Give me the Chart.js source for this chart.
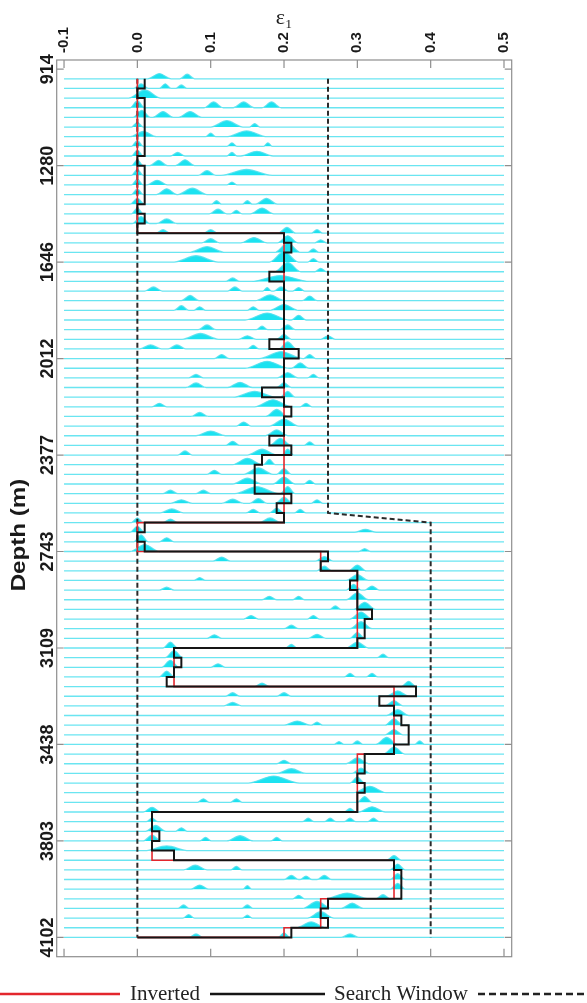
<!DOCTYPE html>
<html>
<head>
<meta charset="utf-8">
<script src="https://cdn.jsdelivr.net/npm/chart.js@4.4.1/dist/chart.umd.min.js"></script>
<style>
  html, body { margin: 0; padding: 0; background: #fff; }
</style>
</head>
<body>
<canvas id="canvas" width="587" height="1003"></canvas>
<script>
// depth axis: sample index 0..90, labelled every 10 samples
const depthTickIdx = [0, 10, 20, 30, 40, 50, 60, 70, 80, 90];
const depthLabels = ['914', '1280', '1646', '2012', '2377', '2743', '3109', '3438', '3803', '4102'];
const epsTicks = [-0.1, 0.0, 0.1, 0.2, 0.3, 0.4, 0.5];

// eps1 per layer, layers 1..89 (value holds from layer i to i+1)
const inverted = [
  0.01, 0, 0.01, 0.01, 0.01, 0.01, 0.01, 0.01, 0, 0.01,
  0.01, 0.01, 0.01, 0, 0.01, 0, 0.2, 0.21, 0.2, 0.2,
  0.18, 0.2, 0.2, 0.2, 0.2, 0.2, 0.2, 0.18, 0.22, 0.2,
  0.2, 0.2, 0.17, 0.2, 0.21, 0.2, 0.2, 0.18, 0.21, 0.17,
  0.16, 0.16, 0.16, 0.21, 0.19, 0.2, 0.01, 0, 0.01, 0.26,
  0.25, 0.3, 0.29, 0.3, 0.3, 0.32, 0.31, 0.31, 0.3, 0.05,
  0.06, 0.05, 0.04, 0.38, 0.33, 0.35, 0.36, 0.37, 0.37, 0.35,
  0.31, 0.31, 0.3, 0.31, 0.3, 0.3, 0.02, 0.02, 0.03, 0.02,
  0.05, 0.35, 0.36, 0.36, 0.36, 0.26, 0.25, 0.26, 0.21
];
const trueModel = [
  0, 0, 0, 0, 0, 0, 0, 0, 0, 0,
  0, 0, 0, 0, 0, 0, 0.2, 0.2, 0.2, 0.2,
  0.2, 0.2, 0.2, 0.2, 0.2, 0.2, 0.2, 0.2, 0.2, 0.2,
  0.2, 0.2, 0.2, 0.2, 0.2, 0.2, 0.2, 0.2, 0.2, 0.2,
  0.2, 0.2, 0.2, 0.2, 0.2, 0.2, 0, 0, 0, 0.25,
  0.25, 0.3, 0.3, 0.3, 0.3, 0.3, 0.3, 0.3, 0.3, 0.05,
  0.05, 0.05, 0.05, 0.35, 0.35, 0.35, 0.35, 0.35, 0.35, 0.35,
  0.3, 0.3, 0.3, 0.3, 0.3, 0.3, 0.02, 0.02, 0.02, 0.02,
  0.02, 0.35, 0.35, 0.35, 0.35, 0.25, 0.25, 0.25, 0.2
];
const profileEnd = { eps: 0, idx: 90 };

// search window bounds
const winLeftEps = [0, 0];
const winLeftIdx = [1, 90];
const winRightEps = [0.26, 0.26, 0.4, 0.4];
const winRightIdx = [1, 46, 47, 90];

// posterior humps on each trace 1..90: [centre eps, half width eps, height in samples]
const bumps = [
  [[0.03, 0.016, 0.45], [0.068, 0.01, 0.4]],
  [[0.005, 0.01, 0.4], [0.038, 0.008, 0.4], [0.06, 0.008, 0.3]],
  [[0.01, 0.022, 0.7]],
  [[0.0, 0.01, 0.6], [0.104, 0.013, 0.5], [0.145, 0.014, 0.5], [0.183, 0.013, 0.5]],
  [[0.006, 0.012, 0.6], [0.035, 0.014, 0.5], [0.072, 0.016, 0.5]],
  [[0.0, 0.008, 0.4], [0.122, 0.022, 0.55], [0.16, 0.007, 0.3]],
  [[0.008, 0.018, 0.45], [0.1, 0.007, 0.3], [0.149, 0.028, 0.5]],
  [[0.0, 0.008, 0.5], [0.129, 0.007, 0.3], [0.178, 0.006, 0.3]],
  [[0.0, 0.008, 0.5], [0.055, 0.01, 0.3], [0.129, 0.007, 0.3], [0.163, 0.022, 0.4]],
  [[0.0, 0.008, 0.5], [0.029, 0.012, 0.45], [0.065, 0.013, 0.5]],
  [[0.0, 0.008, 0.5], [0.095, 0.012, 0.4], [0.149, 0.035, 0.5]],
  [[0.0, 0.008, 0.5], [0.027, 0.014, 0.4], [0.129, 0.007, 0.25]],
  [[0.0, 0.008, 0.5], [0.04, 0.014, 0.5], [0.075, 0.02, 0.55]],
  [[0.0, 0.01, 0.5], [0.108, 0.007, 0.3], [0.15, 0.007, 0.3], [0.176, 0.015, 0.5]],
  [[0.0, 0.008, 0.5], [0.11, 0.012, 0.4], [0.135, 0.008, 0.3], [0.17, 0.016, 0.5]],
  [[0.005, 0.012, 0.6], [0.04, 0.014, 0.4]],
  [[0.035, 0.01, 0.3], [0.1, 0.01, 0.3], [0.204, 0.012, 0.5], [0.245, 0.008, 0.3]],
  [[0.1, 0.012, 0.35], [0.159, 0.018, 0.45], [0.205, 0.014, 0.6], [0.25, 0.008, 0.25]],
  [[0.095, 0.025, 0.5], [0.205, 0.018, 0.8], [0.24, 0.008, 0.3]],
  [[0.08, 0.03, 0.55], [0.2, 0.02, 0.9], [0.24, 0.008, 0.3]],
  [[0.205, 0.018, 0.8], [0.25, 0.008, 0.3]],
  [[0.13, 0.01, 0.3], [0.195, 0.04, 0.5]],
  [[0.022, 0.012, 0.35], [0.133, 0.01, 0.35], [0.177, 0.006, 0.3], [0.196, 0.01, 0.35], [0.22, 0.008, 0.3]],
  [[0.072, 0.012, 0.45], [0.181, 0.02, 0.5], [0.235, 0.01, 0.4]],
  [[0.06, 0.01, 0.4], [0.085, 0.008, 0.3], [0.158, 0.008, 0.3], [0.2, 0.02, 0.5]],
  [[0.177, 0.03, 0.6], [0.22, 0.01, 0.4]],
  [[0.095, 0.012, 0.4], [0.17, 0.008, 0.3], [0.205, 0.01, 0.4]],
  [[0.086, 0.025, 0.5], [0.15, 0.012, 0.3], [0.2, 0.01, 0.4], [0.26, 0.01, 0.3]],
  [[0.018, 0.015, 0.35], [0.054, 0.012, 0.35], [0.158, 0.008, 0.3], [0.205, 0.012, 0.6]],
  [[0.115, 0.01, 0.35], [0.196, 0.03, 0.6], [0.235, 0.008, 0.35]],
  [[0.177, 0.03, 0.6], [0.222, 0.012, 0.45]],
  [[0.08, 0.01, 0.3], [0.205, 0.014, 0.45], [0.24, 0.008, 0.3]],
  [[0.08, 0.014, 0.4], [0.14, 0.017, 0.45], [0.2, 0.01, 0.4]],
  [[0.16, 0.03, 0.5], [0.205, 0.01, 0.5]],
  [[0.03, 0.01, 0.3], [0.185, 0.025, 0.6], [0.23, 0.008, 0.3]],
  [[0.085, 0.012, 0.35], [0.19, 0.015, 0.6]],
  [[0.145, 0.01, 0.35], [0.2, 0.02, 0.6]],
  [[0.1, 0.02, 0.4], [0.19, 0.015, 0.5]],
  [[0.13, 0.01, 0.35], [0.195, 0.015, 0.6], [0.235, 0.008, 0.3]],
  [[0.065, 0.01, 0.35], [0.17, 0.02, 0.5], [0.205, 0.008, 0.5]],
  [[0.15, 0.02, 0.55], [0.18, 0.008, 0.45]],
  [[0.105, 0.01, 0.35], [0.165, 0.02, 0.55], [0.2, 0.01, 0.5]],
  [[0.15, 0.02, 0.5], [0.2, 0.015, 0.6], [0.235, 0.008, 0.3]],
  [[0.045, 0.01, 0.3], [0.09, 0.01, 0.3], [0.163, 0.03, 0.6], [0.205, 0.01, 0.6]],
  [[0.06, 0.015, 0.3], [0.13, 0.015, 0.35], [0.165, 0.012, 0.4], [0.2, 0.012, 0.5], [0.245, 0.008, 0.3]],
  [[0.047, 0.016, 0.35], [0.158, 0.01, 0.3], [0.19, 0.01, 0.4], [0.222, 0.008, 0.3]],
  [[0.0, 0.008, 0.4], [0.045, 0.01, 0.3], [0.181, 0.015, 0.4]],
  [[0.0, 0.01, 0.5], [0.311, 0.015, 0.25]],
  [[0.005, 0.01, 0.6], [0.04, 0.01, 0.35]],
  [[0.01, 0.02, 0.6], [0.31, 0.008, 0.25]],
  [[0.115, 0.012, 0.35], [0.255, 0.012, 0.4]],
  [[0.255, 0.01, 0.4], [0.3, 0.012, 0.5]],
  [[0.085, 0.008, 0.25], [0.3, 0.015, 0.5]],
  [[0.04, 0.01, 0.25], [0.295, 0.01, 0.5], [0.32, 0.01, 0.35]],
  [[0.18, 0.01, 0.3], [0.22, 0.008, 0.3], [0.3, 0.015, 0.6]],
  [[0.27, 0.008, 0.3], [0.31, 0.015, 0.6]],
  [[0.155, 0.01, 0.3], [0.24, 0.008, 0.3], [0.305, 0.015, 0.6]],
  [[0.21, 0.01, 0.3], [0.305, 0.015, 0.6]],
  [[0.105, 0.01, 0.3], [0.245, 0.012, 0.35], [0.3, 0.01, 0.5]],
  [[0.045, 0.01, 0.5], [0.21, 0.008, 0.3], [0.3, 0.015, 0.5]],
  [[0.05, 0.012, 0.6], [0.335, 0.008, 0.3]],
  [[0.045, 0.012, 0.6], [0.11, 0.01, 0.3]],
  [[0.04, 0.01, 0.5], [0.29, 0.008, 0.3], [0.32, 0.008, 0.3]],
  [[0.17, 0.01, 0.3], [0.37, 0.01, 0.45]],
  [[0.13, 0.01, 0.3], [0.2, 0.01, 0.3], [0.355, 0.015, 0.45]],
  [[0.13, 0.012, 0.3], [0.35, 0.012, 0.45]],
  [[0.355, 0.015, 0.5]],
  [[0.218, 0.018, 0.35], [0.245, 0.008, 0.25], [0.35, 0.012, 0.55]],
  [[0.35, 0.012, 0.45]],
  [[0.275, 0.007, 0.25], [0.3, 0.008, 0.3], [0.34, 0.015, 0.6], [0.385, 0.007, 0.3]],
  [[0.35, 0.015, 0.6]],
  [[0.2, 0.01, 0.3], [0.3, 0.015, 0.5]],
  [[0.21, 0.02, 0.4], [0.305, 0.012, 0.45]],
  [[0.186, 0.035, 0.6], [0.3, 0.01, 0.5]],
  [[0.317, 0.022, 0.55]],
  [[0.09, 0.008, 0.3], [0.135, 0.008, 0.3], [0.31, 0.01, 0.5]],
  [[0.02, 0.012, 0.4], [0.29, 0.008, 0.3], [0.32, 0.018, 0.45]],
  [[0.02, 0.008, 0.3], [0.233, 0.008, 0.3], [0.263, 0.008, 0.3], [0.29, 0.008, 0.3], [0.322, 0.008, 0.3]],
  [[0.025, 0.014, 0.5], [0.06, 0.008, 0.3]],
  [[0.02, 0.012, 0.5], [0.093, 0.008, 0.3], [0.14, 0.018, 0.45], [0.19, 0.008, 0.3]],
  [[0.04, 0.03, 0.4]],
  [[0.35, 0.01, 0.4]],
  [[0.079, 0.016, 0.4], [0.135, 0.008, 0.3], [0.355, 0.01, 0.5]],
  [[0.21, 0.01, 0.35], [0.23, 0.008, 0.3], [0.255, 0.01, 0.35], [0.355, 0.01, 0.5]],
  [[0.085, 0.012, 0.35], [0.15, 0.006, 0.3], [0.355, 0.01, 0.5]],
  [[0.22, 0.008, 0.3], [0.286, 0.03, 0.5], [0.335, 0.01, 0.35]],
  [[0.063, 0.008, 0.3], [0.15, 0.008, 0.3], [0.245, 0.02, 0.6], [0.293, 0.015, 0.45]],
  [[0.07, 0.008, 0.3], [0.15, 0.007, 0.25], [0.25, 0.018, 0.55]],
  [[0.237, 0.02, 0.5]],
  [[0.08, 0.01, 0.3], [0.2, 0.008, 0.4], [0.29, 0.012, 0.3]]
];

const traceStart = -0.1, traceEnd = 0.5;
const humpScale = 1.2;

function profile(values) {
  const pts = values.map((v, i) => ({ x: v, y: i + 1 }));
  pts.push({ x: profileEnd.eps, y: profileEnd.idx });
  return pts;
}

function trace(list, idx) {
  const pts = [{ x: traceStart, y: idx }];
  let last = traceStart;
  list.forEach(([c, w, h]) => {
    if (c - w > last) pts.push({ x: c - w, y: idx });
    pts.push({ x: c, y: idx - h * humpScale });
    pts.push({ x: c + w, y: idx });
    last = c + w;
  });
  pts.push({ x: traceEnd, y: idx });
  return pts;
}

const datasets = [
  {
    label: 'Inverted', data: profile(inverted), stepped: 'after',
    borderColor: '#151515', borderWidth: 2, fill: false
  },
  {
    label: 'True', data: profile(trueModel), stepped: 'after',
    borderColor: '#e3262c', borderWidth: 1.6, fill: false
  },
  {
    label: 'Search Window', data: winLeftEps.map((v, i) => ({ x: v, y: winLeftIdx[i] })),
    borderColor: '#2a2a2a', borderWidth: 2, borderDash: [5, 3], fill: false
  },
  {
    label: 'Search Window', data: winRightEps.map((v, i) => ({ x: v, y: winRightIdx[i] })),
    borderColor: '#2a2a2a', borderWidth: 2, borderDash: [5, 3], fill: false
  }
];
bumps.forEach((list, k) => {
  const idx = k + 1;
  datasets.push({
    data: trace(list, idx),
    borderColor: 'rgba(80, 224, 238, 0.85)',
    backgroundColor: '#1ce2f0',
    borderWidth: 1.3,
    cubicInterpolationMode: 'monotone',
    fill: { value: idx }
  });
});

const framePlugin = {
  id: 'frame',
  afterDraw(chart) {
    const { ctx, chartArea: a, scales: { x, y } } = chart;
    ctx.save();
    ctx.strokeStyle = '#8e8e8e';
    ctx.lineWidth = 1.2;
    ctx.strokeRect(a.left, a.top, a.right - a.left, a.bottom - a.top);
    ctx.beginPath();
    epsTicks.forEach(v => {
      const px = x.getPixelForValue(v);
      ctx.moveTo(px, a.top); ctx.lineTo(px, a.top + 8);
      ctx.moveTo(px, a.bottom); ctx.lineTo(px, a.bottom - 8);
    });
    depthTickIdx.forEach(v => {
      const py = y.getPixelForValue(v);
      ctx.moveTo(a.left, py); ctx.lineTo(a.left + 7, py);
      ctx.moveTo(a.right, py); ctx.lineTo(a.right - 7, py);
    });
    ctx.stroke();

    // depth title
    ctx.save();
    ctx.translate(19, 535);
    ctx.rotate(-Math.PI / 2);
    ctx.scale(1.15, 1);
    ctx.fillStyle = '#1a1a1a';
    ctx.font = 'bold 21px "Liberation Sans", Arial, sans-serif';
    ctx.textAlign = 'center';
    ctx.textBaseline = 'middle';
    ctx.fillText('Depth (m)', 0, 0);
    ctx.restore();

    // legend row
    const ly = 994;
    ctx.lineWidth = 2.5;
    ctx.setLineDash([]);
    ctx.strokeStyle = '#e3262c';
    ctx.beginPath(); ctx.moveTo(0, ly); ctx.lineTo(120, ly); ctx.stroke();
    ctx.strokeStyle = '#151515';
    ctx.beginPath(); ctx.moveTo(210, ly); ctx.lineTo(325, ly); ctx.stroke();
    ctx.setLineDash([7, 4]);
    ctx.strokeStyle = '#222';
    ctx.beginPath(); ctx.moveTo(478, ly); ctx.lineTo(587, ly); ctx.stroke();
    ctx.setLineDash([]);
    ctx.fillStyle = '#222';
    ctx.font = '21px "Liberation Serif", "Times New Roman", serif';
    ctx.textAlign = 'left';
    ctx.textBaseline = 'alphabetic';
    ctx.fillText('Inverted', 130, 1000);
    ctx.fillText('Search Window', 334, 1000);
    ctx.restore();
  }
};

const ctx = document.getElementById('canvas').getContext('2d');
const myChart = new Chart(ctx, {
  type: 'scatter',
  data: { datasets: datasets },
  plugins: [framePlugin],
  options: {
    responsive: false,
    devicePixelRatio: 1,
    animation: false,
    events: [],
    showLine: true,
    layout: { padding: { left: 0, top: 0, right: 75.3, bottom: 46.3 } },
    elements: { point: { radius: 0 }, line: { tension: 0 } },
    plugins: { legend: { display: false }, tooltip: { enabled: false } },
    scales: {
      x: {
        type: 'linear', position: 'top', min: -0.11, max: 0.5105,
        afterBuildTicks: s => { s.ticks = epsTicks.map(v => ({ value: v })); },
        afterFit: s => { s.height = 60; },
        grid: { display: false, drawTicks: false },
        border: { display: false },
        ticks: {
          autoSkip: false, minRotation: 90, maxRotation: 90, padding: 7, labelOffset: 18,
          color: '#1a1a1a',
          font: { family: '"Liberation Sans", Arial, sans-serif', weight: 'bold', size: 15 },
          callback: v => v.toFixed(1)
        },
        title: {
          display: true, text: 'ε₁', color: '#1a1a1a',
          font: { family: '"Liberation Serif", "DejaVu Serif", serif', size: 22 },
          padding: { top: 5, bottom: 0 }
        }
      },
      y: {
        type: 'linear', reverse: true, min: -0.95, max: 92,
        afterBuildTicks: s => { s.ticks = depthTickIdx.map(v => ({ value: v })); },
        afterFit: s => { s.width = 56.7; },
        grid: { display: false, drawTicks: false },
        border: { display: false },
        ticks: {
          autoSkip: false, minRotation: 90, maxRotation: 90, crossAlign: 'center', padding: -11,
          color: '#1a1a1a',
          font: { family: '"Liberation Sans", Arial, sans-serif', weight: 'bold', size: 18 },
          callback: v => depthLabels[depthTickIdx.indexOf(v)]
        }
      }
    }
  }
});
</script>
</body>
</html>
